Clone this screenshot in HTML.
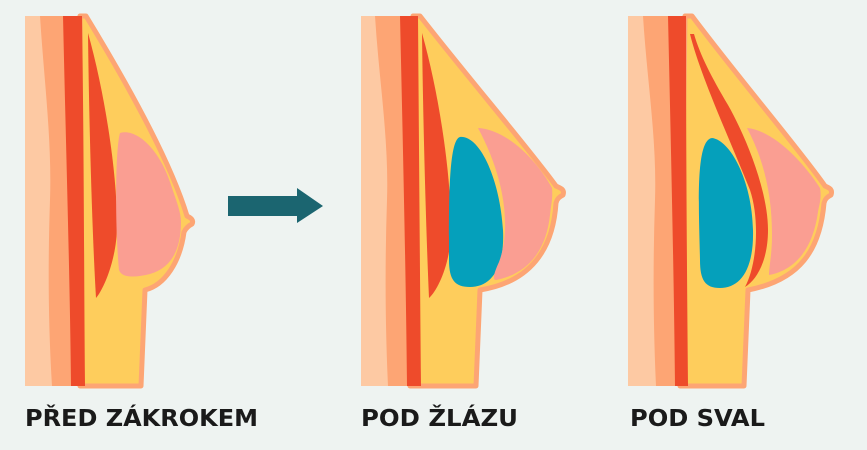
<!DOCTYPE html>
<html><head><meta charset="utf-8"><style>
html,body{margin:0;padding:0;background:#eef3f1;}
svg{display:block}
text{font-family:"DejaVu Sans Condensed","Liberation Sans",sans-serif;font-weight:bold;font-size:23px;fill:#1a1a1a}
</style></head><body>
<svg width="867" height="450" viewBox="0 0 867 450">
<rect width="867" height="450" fill="#eef3f1"/>
<!-- Panel 1 -->
<path d="M80,16 L86,16 C125,80 170,160 187,216 C191,218 194,220 192,224 C188,226 186,228 184,232 C180,262 165,285 145,290 L141,386 L80,386Z" fill="#fecd5c" stroke="#fda574" stroke-width="5" stroke-linejoin="round"/>
<path d="M25,16 L66,16 L75,386 L25,386Z" fill="#fda574"/>
<path d="M25,16 L40,16 C44,80 52,140 50,200 C48,260 48,320 52,386 L25,386Z" fill="#fdc9a3"/>
<path d="M63,16 L82,16 C84,150 84,280 85,386 L71,386 C70,280 66,150 63,16Z" fill="#ee4b2b"/>
<path d="M88,33 C104,90 117,170 117,225 C117,260 103,290 96,298 C92,230 89,120 88,33Z" fill="#ee4b2b"/>
<path d="M120,133 C137,128 160,150 171,185 C176,200 181,212 181,222 C181,250 171,268 150,274 C138,277 122,279 119,270 C115,230 115,150 120,133Z" fill="#fa9e92"/>
<!-- Arrow -->
<path d="M228,196 L297,196 L297,188 L323,206 L297,223 L297,216 L228,216Z" fill="#1b6570"/>
<!-- Panel 2 -->
<path d="M413,16 L420,16 C470,80 530,150 556,186 C560,188 565,189 563,195 C559,197 557,199 556,203 C553,250 530,282 480,290 L476,386 L410,386Z" fill="#fecd5c" stroke="#fda574" stroke-width="5" stroke-linejoin="round"/>
<path d="M361,16 L403,16 L410,386 L361,386Z" fill="#fda574"/>
<path d="M361,16 L375,16 C379,80 389,140 387,200 C385,260 385,320 388,386 L361,386Z" fill="#fdc9a3"/>
<path d="M400,16 L418,16 C419,150 420,280 421,386 L407,386 C406,280 403,150 400,16Z" fill="#ee4b2b"/>
<path d="M422,33 C438,90 451,170 451,230 C451,262 438,290 429,298 C426,230 423,120 422,33Z" fill="#ee4b2b"/>
<path d="M460,137 C480,135 500,180 503,230 C505,270 490,287 470,287 C455,287 449,280 449,260 C449,210 448,140 460,137Z" fill="#05a0bb"/>
<path d="M478,128 C510,130 540,165 552,188 C553,198 551,205 550,215 C546,252 527,274 496,280 C492,280 494,273 499,262 C511,230 506,180 478,128Z" fill="#fa9e92"/>
<!-- Panel 3 -->
<path d="M685,16 L692,16 C740,80 800,150 825,186 C829,188 833,189 831,195 C827,197 825,199 824,203 C820,250 800,280 748,290 L744,386 L680,386Z" fill="#fecd5c" stroke="#fda574" stroke-width="5" stroke-linejoin="round"/>
<path d="M628,16 L671,16 L678,386 L628,386Z" fill="#fda574"/>
<path d="M628,16 L643,16 C647,80 657,140 655,200 C653,260 653,320 656,386 L628,386Z" fill="#fdc9a3"/>
<path d="M668,16 L686,16 C686,150 687,280 688,386 L675,386 C674,280 671,150 668,16Z" fill="#ee4b2b"/>
<path d="M712,138 C730,140 752,180 753,230 C754,270 740,288 720,288 C705,288 700,280 700,260 C699,210 695,140 712,138Z" fill="#05a0bb"/>
<path d="M690,34 C700,75 730,140 750,190 C760,220 757,265 745,287 C757,280 768,260 768,230 C768,190 745,135 728,105 C712,78 700,55 694,34Z" fill="#ee4b2b"/>
<path d="M747,128 C772,130 802,160 820,188 C822,198 819,205 818,212 C813,248 796,270 769,275 C769,266 772,255 772,235 C772,195 764,160 747,128Z" fill="#fa9e92"/>
<!-- Labels -->
<text x="25" y="426" textLength="233" lengthAdjust="spacingAndGlyphs">PŘED ZÁKROKEM</text>
<text x="361" y="426" textLength="157" lengthAdjust="spacingAndGlyphs">POD ŽLÁZU</text>
<text x="630" y="426" textLength="135" lengthAdjust="spacingAndGlyphs">POD SVAL</text>
</svg>
</body></html>
